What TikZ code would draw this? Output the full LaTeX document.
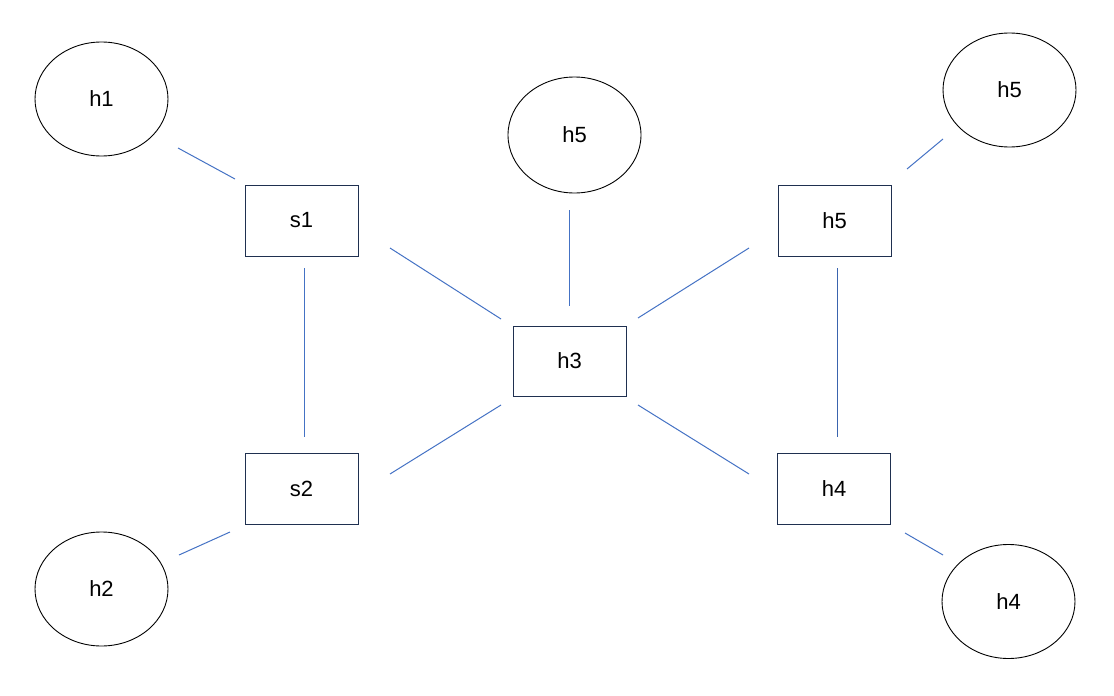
\documentclass[tikz,border=0pt]{standalone}
\usepackage{fontspec}
\setmainfont{Liberation Sans}
\usetikzlibrary{shapes.geometric}
\definecolor{linkblue}{HTML}{4472C4}
\definecolor{linkdark}{HTML}{3A64AE}
\definecolor{boxnavy}{HTML}{1F3050}
\begin{document}
\begin{tikzpicture}[x=1pt,y=-1pt,
  hostnode/.style={draw=black, line width=0.9pt, ellipse, minimum width=133pt, minimum height=114pt, inner sep=0pt, font=\fontsize{22}{26}\selectfont},
  boxnode/.style={draw=boxnavy, line width=1pt, rectangle, minimum width=113pt, minimum height=71pt, inner sep=0pt, font=\fontsize{22}{26}\selectfont},
  link/.style={draw=linkblue, line width=1pt},
  darklink/.style={draw=linkdark, line width=1pt}]
\useasboundingbox (0,0) rectangle (1114,696);
% hosts (ellipses)
\node[hostnode] (h1) at (101.5,99) {h1};
\node[hostnode] (h2) at (101.5,589) {h2};
\node[hostnode, minimum height=116pt] (h5a) at (574.5,135) {h5};
\node[hostnode] (h5b) at (1009.5,90) {h5};
\node[hostnode] (h4a) at (1008.5,601.5) {h4};
% switches (boxes)
\node[boxnode] (s1) at (301.5,220.5) {s1};
\node[boxnode] (s2) at (301.5,488.5) {s2};
\node[boxnode, minimum height=70pt] (h3) at (569.5,361) {h3};
\node[boxnode] (h5r) at (834.5,220.5) {h5};
\node[boxnode] (h4r) at (834,488.5) {h4};
% link end points, kept clear of the shapes
\coordinate (h1s1a) at (178,148);  \coordinate (h1s1b) at (235,179);
\coordinate (s1s2a) at (304,268);  \coordinate (s1s2b) at (304,437);
\coordinate (s1h3a) at (390,248);  \coordinate (s1h3b) at (501,319);
\coordinate (h5h3a) at (569,210);  \coordinate (h5h3b) at (569,306);
\coordinate (h3h5a) at (638,318);  \coordinate (h3h5b) at (749,248);
\coordinate (h5h5a) at (907,169);  \coordinate (h5h5b) at (943,139);
\coordinate (h5h4a) at (837.5,268); \coordinate (h5h4b) at (837.5,437);
\coordinate (h3s2a) at (501,405);  \coordinate (h3s2b) at (390,474);
\coordinate (h3h4a) at (638,405);  \coordinate (h3h4b) at (749,474);
\coordinate (s2h2a) at (230,532);  \coordinate (s2h2b) at (179,555);
\coordinate (h4h4a) at (905,533);  \coordinate (h4h4b) at (943,555);
% links
\draw[link] (h1s1a) -- (h1s1b);
\draw[link] (s1s2a) -- (s1s2b);
\draw[link] (s1h3a) -- (s1h3b);
\draw[link] (h5h3a) -- (h5h3b);
\draw[link] (h3h5a) -- (h3h5b);
\draw[link] (h5h5a) -- (h5h5b);
\draw[darklink] (h5h4a) -- (h5h4b);
\draw[link] (h3s2a) -- (h3s2b);
\draw[link] (h3h4a) -- (h3h4b);
\draw[link] (s2h2a) -- (s2h2b);
\draw[link] (h4h4a) -- (h4h4b);
\end{tikzpicture}
\end{document}
